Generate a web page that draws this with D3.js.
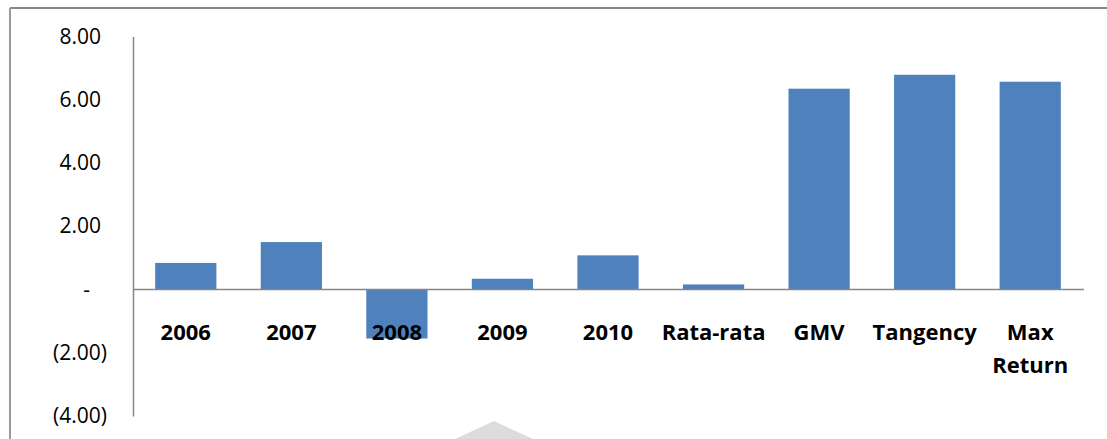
<!DOCTYPE html>
<html>
<head>
<meta charset="utf-8">
<script src="https://cdn.jsdelivr.net/npm/d3@7"></script>
<style>
  body { margin: 0; background: #fff; }
  text { font-family: "Open Sans", "DejaVu Sans", sans-serif; fill: #000; }
</style>
</head>
<body>
<div id="chart"></div>
<script>
// data
const categories = ["2006", "2007", "2008", "2009", "2010", "Rata-rata", "GMV", "Tangency", "Max Return"];
const values = [0.84, 1.50, -1.55, 0.34, 1.08, 0.16, 6.35, 6.79, 6.57];
const yTicks = [8, 6, 4, 2, 0, -2, -4];

const svg = d3.select("#chart")
    .append("svg")
    .attr("width", 1107)
    .attr("height", 439);

// outer frame (only top and left edges show in the picture)
svg.append("line").attr("x1", 10).attr("x2", 1107).attr("y1", 8).attr("y2", 8)
    .style("stroke", "#888").style("stroke-width", 2);
svg.append("line").attr("x1", 10).attr("x2", 10).attr("y1", 8).attr("y2", 439)
    .style("stroke", "#999").style("stroke-width", 2);

// faint watermark at bottom
svg.append("path")
    .attr("d", "M455,439 L494,421 L533,439 Z")
    .style("fill", "#dcdcdc");

const x = d3.scaleBand()
    .domain(categories)
    .range([133, 1083])
    .paddingInner(0.42)
    .paddingOuter(0.21);

const y = d3.scaleLinear()
    .domain([-4, 8])
    .range([416, 36.5]);

const fmt = v => v === 0 ? "-" : (v < 0 ? "(" + d3.format(".2f")(-v) + ")" : d3.format(".2f")(v));

// Y axis
const yAxis = svg.append("g")
    .attr("transform", "translate(133,0)")
    .call(d3.axisLeft(y).tickValues(yTicks).tickSize(0).tickFormat(fmt));
yAxis.select(".domain").style("stroke", "#868686").style("stroke-width", 1.5);
yAxis.selectAll("text")
    .attr("x", d => d > 0 ? -32 : (d < 0 ? -26 : -43))
    .style("font-size", "21px")
    .style("font-family", "'Open Sans', sans-serif");

// bars
svg.append("g")
    .selectAll("rect")
    .data(values)
    .join("rect")
    .attr("x", (d, i) => x(categories[i]))
    .attr("width", x.bandwidth())
    .attr("y", d => y(Math.max(0, d)))
    .attr("height", d => Math.abs(y(d) - y(0)))
    .style("fill", "#4f81bd");

// zero line
svg.append("line")
    .attr("x1", 133).attr("x2", 1084)
    .attr("y1", y(0)).attr("y2", y(0))
    .style("stroke", "#868686").style("stroke-width", 1.5);

// category labels
const labels = svg.append("g")
    .selectAll("text")
    .data(categories)
    .join("text")
    .attr("x", d => x(d) + x.bandwidth() / 2)
    .attr("y", 340)
    .attr("text-anchor", "middle")
    .style("font-size", "22px")
    .style("font-weight", "bold");
labels.each(function (d) {
    const parts = d === "Max Return" ? ["Max", "Return"] : [d];
    const t = d3.select(this);
    parts.forEach((p, j) => {
        t.append("tspan")
            .attr("x", x(d) + x.bandwidth() / 2)
            .attr("dy", j === 0 ? 0 : 33)
            .text(p);
    });
});
</script>
</body>
</html>
